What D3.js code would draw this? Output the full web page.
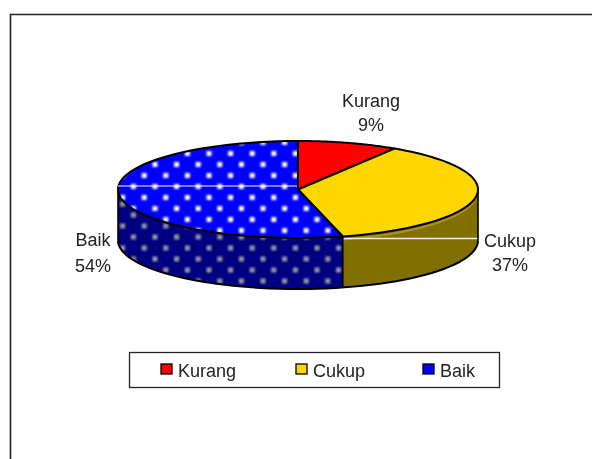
<!DOCTYPE html>
<html><head><meta charset="utf-8">
<script src="https://cdn.jsdelivr.net/npm/d3@7"></script>
<style>html,body{margin:0;padding:0;background:#fff;overflow:hidden}svg{display:block}text{font-family:"Liberation Sans",Arial,sans-serif;font-size:18px;fill:#222}</style>
</head><body><div id="c"></div>
<script>
const categories=["Kurang","Cukup","Baik"];
const values=[9,37,54];
const topColors=["#ff0000","#ffd700","#0000ff"];
const sideColors=["#800000","#807000","#000080"];
const W=592,H=459,cx=298,cy=189.5,rx=180,ry=48.5,depth=51;
const svg=d3.select("#c").append("svg").attr("width",W).attr("height",H);
const defs=svg.append("defs");
defs.append("filter").attr("id","soft").append("feGaussianBlur").attr("stdDeviation",0.5);
defs.append("filter").attr("id","softText").attr("x","-5%").attr("y","-5%").attr("width","110%").attr("height","110%").append("feGaussianBlur").attr("stdDeviation",0.75);
defs.append("filter").attr("id","softDot").attr("x","-60%").attr("y","-60%").attr("width","220%").attr("height","220%").append("feGaussianBlur").attr("stdDeviation",0.9);
function dots(id,color,bg,y0){
  const p=defs.append("pattern").attr("id",id).attr("patternUnits","userSpaceOnUse").attr("width",21.6).attr("height",22).attr("x",-1.6).attr("y",y0);
  p.append("rect").attr("width",21.6).attr("height",22).attr("fill",bg);
  [[5.4,5.5],[16.2,16.5]].forEach(d=>p.append("rect").attr("x",d[0]-2.5).attr("y",d[1]-2.5).attr("width",5).attr("height",5).attr("fill",color).attr("filter","url(#softDot)"));
}
dots("dotTop","#fff","#0000ff",5);
dots("dotSide","#9a9aa0","#000080",11.5);

const x=d3.scaleLinear().domain([-1,1]).range([cx-rx,cx+rx]);
const y=d3.scaleLinear().domain([-1,1]).range([cy-ry,cy+ry]);
const pie=d3.pie().sort(null)(values);
const px=a=>x(Math.sin(a)), py=a=>y(-Math.cos(a));
const steps=(a0,a1)=>d3.range(0,61).map(i=>a0+(a1-a0)*i/60);
const line=d3.line().x(d=>d[0]).y(d=>d[1]);
const g=svg.append("g").attr("filter","url(#soft)");

// frame
g.append("path").attr("d",line([[10.5,H+4],[10.5,14.5],[W+4,14.5]])).attr("fill","none").attr("stroke","#222").attr("stroke-width",1.6);

// side walls
const front=(a0,a1)=>{
  const lo=Math.max(a0,Math.PI/2),hi=Math.min(a1,3*Math.PI/2);
  if(lo>=hi) return null;
  const s=steps(lo,hi);
  return s.map(a=>[px(a),py(a)]).concat(s.slice().reverse().map(a=>[px(a),py(a)+depth]));
};
pie.forEach((d,i)=>{
  const pts=front(d.startAngle,d.endAngle);
  if(!pts) return;
  g.append("path").attr("d",line(pts)+"Z").attr("fill",i===2?"url(#dotSide)":sideColors[i]).attr("stroke","none");
});
// light band under the yellow rim
g.append("path").attr("d",line(steps(Math.PI/2,pie[1].endAngle).map(a=>[px(a)-1,py(a)+3]))).attr("fill","none").attr("stroke","#a8922a").attr("stroke-width",2);
// white seam on the yellow wall
g.append("line").attr("x1",px(pie[1].endAngle)).attr("x2",x(1)).attr("y1",238.5).attr("y2",238.5).attr("stroke","#efeee0").attr("stroke-width",1.3);
// wall outline
const allFront=steps(Math.PI/2,3*Math.PI/2);
g.append("path").attr("d",line(allFront.map(a=>[px(a),py(a)+depth]))).attr("fill","none").attr("stroke","#000").attr("stroke-width",2);
[Math.PI/2,3*Math.PI/2,pie[1].endAngle].forEach(a=>{
  g.append("line").attr("x1",px(a)).attr("x2",px(a)).attr("y1",py(a)).attr("y2",py(a)+depth).attr("stroke","#000").attr("stroke-width",1.6);
});
// top faces
pie.forEach((d,i)=>{
  const pts=[[x(0),y(0)]].concat(steps(d.startAngle,d.endAngle).map(a=>[px(a),py(a)]));
  g.append("path").attr("d",line(pts)+"Z").attr("fill",i===2?"url(#dotTop)":topColors[i]).attr("stroke","#000").attr("stroke-width",2).attr("stroke-linejoin","round");
});
// white seam on the blue top
g.append("line").attr("x1",x(-1)).attr("x2",x(0)-1).attr("y1",186).attr("y2",186).attr("stroke","#fff").attr("stroke-width",1);

// legend box
g.append("rect").attr("x",129.5).attr("y",352.5).attr("width",370).attr("height",35).attr("fill","#fff").attr("stroke","#222").attr("stroke-width",1.3);
const legX=[161,296,423];
categories.forEach((c,i)=>{
  g.append("rect").attr("x",legX[i]).attr("y",364).attr("width",11).attr("height",10).attr("fill",topColors[i]).attr("stroke","#000").attr("stroke-width",1.3);
});
// labels
const t=svg.append("g").attr("filter","url(#softText)");
const lab=[[371,107,371,131],[510,247,510,271],[93,246,93,272]];
categories.forEach((c,i)=>{
  t.append("text").attr("x",lab[i][0]).attr("y",lab[i][1]).attr("text-anchor","middle").text(c);
  t.append("text").attr("x",lab[i][2]).attr("y",lab[i][3]).attr("text-anchor","middle").text(values[i]+"%");
  t.append("text").attr("x",legX[i]+17).attr("y",377).text(c);
});
</script></body></html>
